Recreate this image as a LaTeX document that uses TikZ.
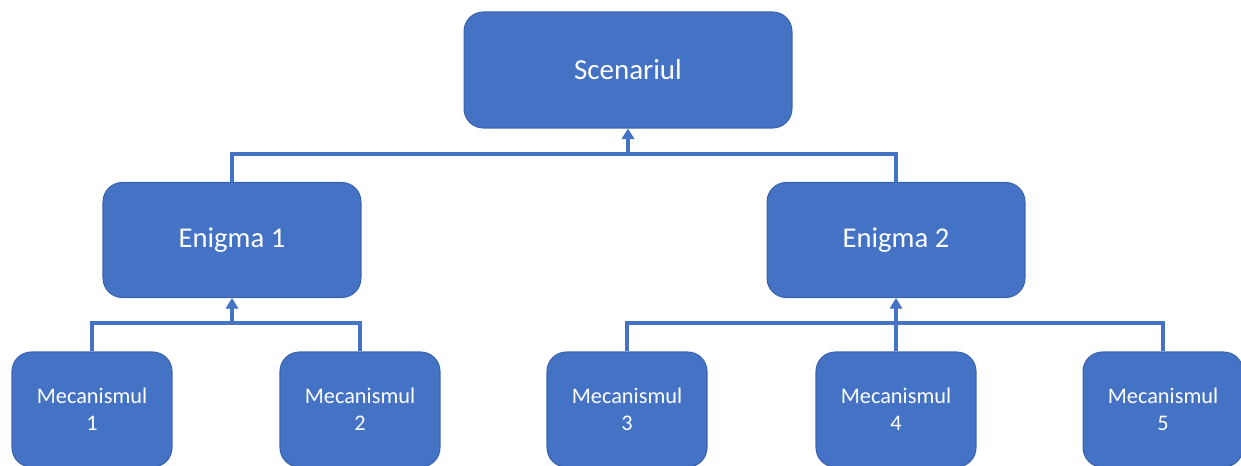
\documentclass[tikz,border=0pt]{standalone}
\usepackage{fontspec}
\setmainfont{Carlito}
\usetikzlibrary{arrows.meta,positioning}
\definecolor{boxblue}{HTML}{4472C4}
\definecolor{edgeblue}{HTML}{3A64AD}
\tikzset{
    %Define standard arrow tip
    >={Triangle[width=7pt,length=6pt]},
    %Define style for boxes
    box/.style={
           rectangle,
           rounded corners=11pt,
           draw=edgeblue, line width=0.6pt,
           fill=boxblue,
           text=white,
           align=center,
           inner sep=0pt},
    top box/.style={
           box,
           minimum width=6.56cm,
           minimum height=2.32cm,
           font=\fontsize{16.5}{19}\selectfont},
    mid box/.style={
           box,
           minimum width=5.16cm,
           minimum height=2.30cm,
           font=\fontsize{16.3}{19}\selectfont},
    low box/.style={
           box,
           minimum width=3.20cm,
           minimum height=2.30cm,
           font=\fontsize{12.7}{15.3}\selectfont},
    % Define connector style
    pil/.style={
           draw=boxblue,
           line width=2pt}
}
\begin{document}
\begin{tikzpicture}[x=0.02cm,y=-0.02cm]
\useasboundingbox (0,0) rectangle (1241,466);
 %nodes
\node[top box](1) at (628,70){Scenariul};
\node[mid box](2) at (232,240){Enigma 1};
\node[mid box](3) at (896,240){Enigma 2};
\node[low box](4) at (92,409.5){Mecanismul\\1};
\node[low box](5) at (360,409.5){Mecanismul\\2};
\node[low box](6) at (627,409.5){Mecanismul\\3};
\node[low box](7) at (896,409.5){Mecanismul\\4};
\node[low box](8) at (1163,409.5){Mecanismul\\5};
 %junctions
\coordinate (j1) at (628,154);
\coordinate (j2) at (232,323);
\coordinate (j3) at (896,323);
 %connectors
\draw[pil] (2.north) |- (j1) -| (3.north);
\draw[pil,->] (j1) -- (1.south);
\draw[pil] (4.north) |- (j2) -| (5.north);
\draw[pil,->] (j2) -- (2.south);
\draw[pil] (6.north) |- (j3) -| (8.north);
\draw[pil] (7.north) -- (j3);
\draw[pil,->] (j3) -- (3.south);
\end{tikzpicture}
\end{document}
